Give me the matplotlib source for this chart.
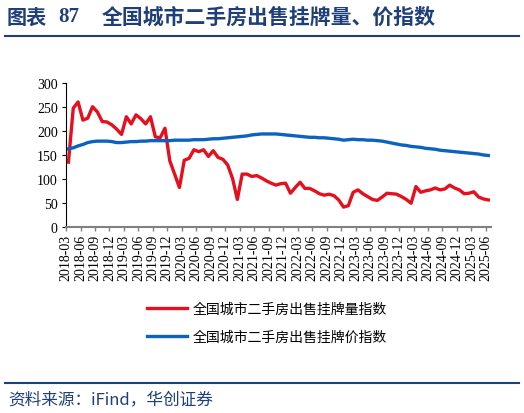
import matplotlib
matplotlib.use("Agg")
import matplotlib.pyplot as plt
import pandas as pd

plt.rcParams['font.family'] = ['Noto Sans CJK SC', 'DejaVu Sans']

# monthly categories 2018-03 .. 2025-06
months = [p.strftime('%Y-%m') for p in pd.period_range('2018-03', '2025-06', freq='M')]

# 全国城市二手房出售挂牌量指数
volume_index = [135, 248, 261, 223, 227, 251, 240, 220, 219, 213,
                204, 193, 230, 215, 234, 226, 215, 230, 188, 186,
                206, 138, 110, 82, 139, 143, 161, 157, 161, 147,
                159, 145, 141, 129, 101, 57, 110, 110, 105, 107,
                102, 96, 91, 87, 90, 91, 70, 82, 93, 80,
                80, 75, 69, 66, 68, 65, 56, 41, 44, 72,
                77, 69, 63, 57, 55, 62, 70, 69, 68, 63,
                57, 49, 84, 72, 75, 77, 81, 77, 79, 87,
                81, 77, 69, 70, 73, 62, 58, 56]

# 全国城市二手房出售挂牌价指数
price_index = [163, 165, 169, 172, 176, 178, 179, 179, 179, 178,
               176, 176, 177, 178, 178, 179, 179, 180, 180, 180,
               180, 180, 181, 181, 181, 181, 182, 182, 182, 183,
               184, 184, 185, 186, 187, 188, 189, 190, 192, 193,
               194, 194, 194, 194, 193, 192, 191, 190, 189, 188,
               187, 187, 186, 186, 185, 184, 183, 181, 182, 183,
               182, 182, 181, 181, 180, 179, 177, 175, 173, 171,
               170, 168, 167, 166, 164, 163, 162, 160, 159, 158,
               157, 156, 155, 154, 153, 152, 150, 149]

red = '#E60F1E'
blue = '#0B63BF'
navy = '#1F3F7A'
serif = 'Liberation Serif'

fig = plt.figure(figsize=(5.24, 4.14), dpi=100)
ax = fig.add_axes([0.126, 0.45, 0.8105, 0.3464])

x = [i + 0.5 for i in range(len(months))]
ax.plot(x, volume_index, color=red, lw=2.4, label='全国城市二手房出售挂牌量指数', solid_joinstyle='round')
ax.plot(x, price_index, color=blue, lw=2.4, label='全国城市二手房出售挂牌价指数', solid_joinstyle='round')

ax.set_xlim(0, len(months))
ax.set_ylim(0, 300)
ax.set_yticks(range(0, 301, 50))
ax.set_yticklabels([str(v) for v in range(0, 301, 50)], fontfamily=serif, fontsize=10)
ticks = list(range(0, len(months), 3))
ax.set_xticks(ticks)
ax.set_xticklabels([months[i] for i in ticks], rotation=90, fontfamily=serif, fontsize=10)

for s in ['top', 'right']:
    ax.spines[s].set_visible(False)
ax.spines['left'].set_color('#000000')
ax.spines['left'].set_linewidth(0.8)
ax.spines['bottom'].set_color('#808080')
ax.spines['bottom'].set_linewidth(1.5)
ax.tick_params(axis='y', length=3, width=0.8, color='#000000', pad=3)
ax.tick_params(axis='x', length=3, width=1.0, color='#808080', pad=2)

fig.legend(loc='center', bbox_to_anchor=(0.51, 0.218), frameon=False,
           fontsize=10, handlelength=2.9, labelspacing=1.0, handletextpad=0.4)

# title and frame lines
fig.text(0.013, 0.958, '图表', fontsize=14.5, fontweight='bold', color=navy, va='center')
fig.text(0.111, 0.958, '87', fontsize=15, fontweight='bold', color=navy, va='center', fontfamily=serif)
fig.text(0.195, 0.958, '全国城市二手房出售挂牌量、价指数', fontsize=15, fontweight='bold',
         color=navy, va='center')
fig.add_artist(plt.Line2D([0.01, 0.99], [0.91, 0.91], color=navy, lw=1.5))
fig.add_artist(plt.Line2D([0.01, 0.99], [0.073, 0.073], color=navy, lw=1.5))
fig.text(0.015, 0.035, '资料来源：iFind，华创证券', fontsize=12, style='italic',
         color=navy, va='center')

fig.savefig('out.png', dpi=100)
